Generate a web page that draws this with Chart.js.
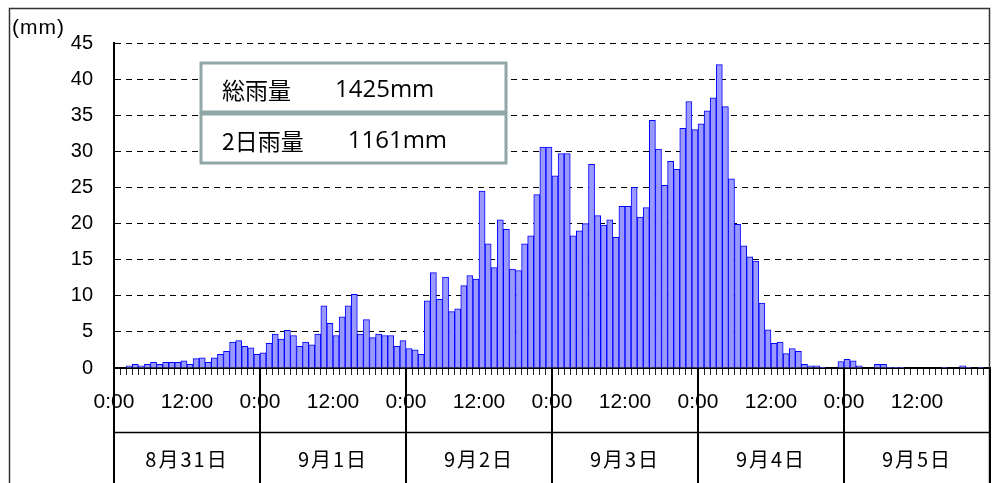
<!DOCTYPE html>
<html>
<head>
<meta charset="utf-8">
<script src="https://cdn.jsdelivr.net/npm/chart.js@4"></script>
<style>
  body { margin: 0; background: #fff; }
</style>
</head>
<body>
<canvas id="rainChart" width="994" height="483"></canvas>
<script>
// hourly rainfall (mm), 24 values per day
const rain0831 = [0, 0, 0.3, 0.5, 0.3, 0.5, 0.8, 0.5, 0.8, 0.8, 0.8, 1.0, 0.5, 1.3, 1.4, 0.8, 1.4, 1.9, 2.3, 3.6, 3.8, 3.0, 2.8, 1.9];
const rain0901 = [2.1, 3.4, 4.7, 4.0, 5.2, 4.5, 3.0, 3.6, 3.2, 4.7, 8.6, 6.2, 4.5, 7.1, 8.6, 10.2, 4.7, 6.7, 4.2, 4.7, 4.5, 4.5, 3.0, 3.8];
const rain0902 = [2.7, 2.5, 1.9, 9.3, 13.2, 9.5, 12.6, 7.8, 8.2, 11.4, 12.8, 12.3, 24.5, 17.2, 13.9, 20.5, 19.2, 13.7, 13.5, 17.2, 18.3, 24.0, 30.6, 30.6];
const rain0903 = [26.6, 29.7, 29.7, 18.3, 19.0, 20.0, 28.2, 21.1, 19.8, 20.5, 18.1, 22.4, 22.4, 25.0, 20.9, 22.2, 34.3, 30.3, 25.3, 28.6, 27.5, 33.2, 36.9, 33.0];
const rain0904 = [33.8, 35.6, 37.4, 42.0, 36.2, 26.2, 19.9, 16.9, 15.4, 14.8, 9.0, 5.3, 3.4, 3.6, 2.0, 2.7, 2.3, 0.5, 0.3, 0.3, 0.1, 0, 0, 0.9];
const rain0905 = [1.2, 1.0, 0.3, 0, 0, 0.5, 0.5, 0.1, 0.1, 0.1, 0, 0, 0, 0, 0, 0, 0.1, 0, 0, 0.3, 0.1, 0, 0.1, 0];

const dayLabels = ['8月31日', '9月1日', '9月2日', '9月3日', '9月4日', '9月5日'];
const hourTickLabels = { 0: '0:00', 12: '12:00' };
const yTicks = [0, 5, 10, 15, 20, 25, 30, 35, 40, 45];
const unitLabel = '(mm)';
const summaryLabels = ['総雨量', '2日雨量'];
const summaryValues = ['1425mm', '1161mm'];

const hourly = [].concat(rain0831, rain0901, rain0902, rain0903, rain0904, rain0905);
const totalHours = hourly.length;

const decorations = {
    id: 'decorations',
    afterDraw(chart) {
        const ctx = chart.ctx;
        const x = chart.scales.x;
        const area = chart.chartArea;
        ctx.save();

        // outer frame
        ctx.strokeStyle = '#333';
        ctx.lineWidth = 1.5;
        ctx.beginPath();
        ctx.moveTo(9.5, 483);
        ctx.lineTo(9.5, 8.5);
        ctx.lineTo(989.5, 8.5);
        ctx.lineTo(989.5, 483);
        ctx.stroke();

        // unit label
        ctx.fillStyle = '#000';
        ctx.font = '21px "Liberation Sans"';
        ctx.letterSpacing = '1px';
        ctx.textBaseline = 'middle';
        ctx.textAlign = 'left';
        ctx.fillText(unitLabel, 12, 28);
        ctx.letterSpacing = '0px';

        // date table under the axis
        ctx.strokeStyle = '#000';
        ctx.lineWidth = 2;
        for (let d = 0; d <= dayLabels.length; d++) {
            const px = Math.round(x.getPixelForValue(d * 24));
            ctx.beginPath();
            ctx.moveTo(px, area.bottom);
            ctx.lineTo(px, 483);
            ctx.stroke();
        }
        ctx.lineWidth = 1.5;
        ctx.beginPath();
        ctx.moveTo(area.left, 432.5);
        ctx.lineTo(area.right, 432.5);
        ctx.stroke();

        ctx.font = '20px "Noto Sans CJK JP"';
        ctx.letterSpacing = '2px';
        ctx.textAlign = 'center';
        dayLabels.forEach((lbl, d) => {
            ctx.fillText(lbl, x.getPixelForValue(d * 24 + 12), 459);
        });
        ctx.letterSpacing = '0px';

        // summary boxes
        ctx.strokeStyle = '#8FA7A7';
        ctx.lineWidth = 3;
        ctx.fillStyle = '#fff';
        summaryLabels.forEach((txt, i) => {
            const top = 63 + i * 51;
            ctx.fillRect(201, top, 305, 49);
            ctx.strokeRect(201, top, 305, 49);
        });
        ctx.fillStyle = '#000';
        ctx.textAlign = 'left';
        summaryLabels.forEach((txt, i) => {
            const y = 90 + i * 51;
            ctx.font = '23px "Noto Sans CJK JP"';
            ctx.fillText(txt, 222, y);
            const w = ctx.measureText(txt).width;
            ctx.font = '24px "Open Sans"';
            ctx.fillText(summaryValues[i], 222 + w + 44, y);
        });

        ctx.restore();
    }
};

new Chart(document.getElementById('rainChart'), {
    type: 'bar',
    data: {
        datasets: [{
            data: hourly.map((v, i) => ({ x: i + 0.5, y: v })),
            backgroundColor: '#9999FF',
            borderColor: '#0000FF',
            borderWidth: 1,
            categoryPercentage: 1,
            barPercentage: 1
        }]
    },
    options: {
        responsive: false,
        animation: false,
        layout: { padding: { left: 0, right: 4, top: 43, bottom: 0 } },
        plugins: { legend: { display: false }, tooltip: { enabled: false } },
        scales: {
            x: {
                type: 'linear',
                offset: false,
                min: 0,
                max: totalHours,
                afterFit(s) {
                    s.height = 115;
                    s.paddingLeft = 0;
                    s.paddingRight = 0;
                },
                border: { display: true, color: '#000', width: 2 },
                grid: { offset: false, drawOnChartArea: false, tickLength: 7, color: '#222', lineWidth: 1 },
                ticks: {
                    stepSize: 1,
                    autoSkip: false,
                    maxRotation: 0,
                    padding: 15,
                    color: '#000',
                    font: { family: 'Liberation Sans', size: 21 },
                    callback(v) {
                        if (v >= totalHours) return '';
                        const h = v % 24;
                        return hourTickLabels[h] !== undefined ? hourTickLabels[h] : '';
                    }
                }
            },
            y: {
                min: yTicks[0],
                max: yTicks[yTicks.length - 1],
                afterFit(s) { s.width = 114; },
                afterBuildTicks(s) { s.ticks = yTicks.map(v => ({ value: v })); },
                border: { display: true, color: '#000', width: 2, dash: [6, 5] },
                grid: {
                    drawTicks: false,
                    color: ctx => ctx.tick && ctx.tick.value === 0 ? 'rgba(0,0,0,0)' : '#000',
                    lineWidth: 1
                },
                ticks: {
                    padding: 21,
                    color: '#000',
                    font: { family: 'Liberation Sans', size: 20 }
                }
            }
        }
    },
    plugins: [decorations]
});
</script>
</body>
</html>
